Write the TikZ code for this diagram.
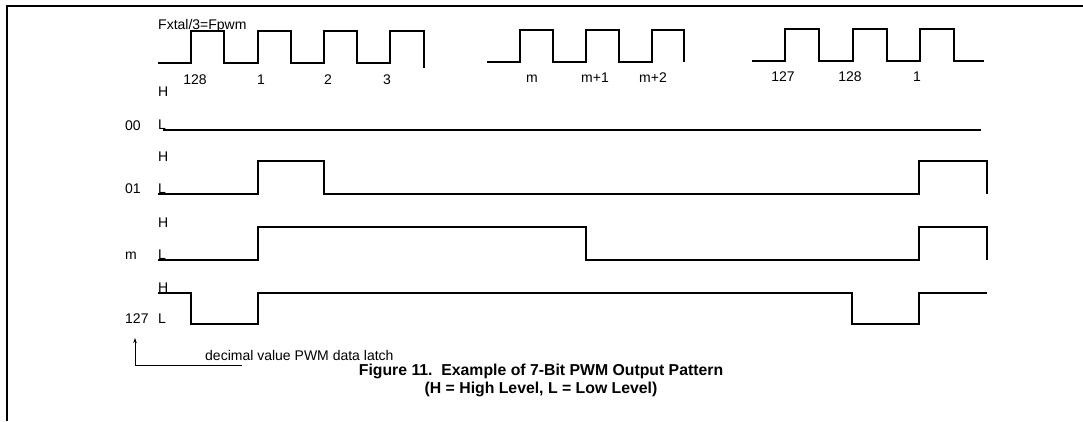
\documentclass[tikz,border=0pt]{standalone}
\usepackage{fontspec}
\setmainfont{Liberation Sans}
\usetikzlibrary{arrows.meta}
\begin{document}
\begin{tikzpicture}[x=1pt,y=-1pt,
  sig/.style={line width=1.2pt, line join=miter},
  lbl/.style={inner sep=0pt, anchor=base, font=\fontsize{14}{16}\selectfont},
  lblw/.style={lbl, anchor=base west},
  captxt/.style={inner sep=0pt, anchor=base, font=\fontsize{15.8}{18}\selectfont\bfseries}]
\useasboundingbox (0,0) rectangle (1083,421);
\fill[white] (0,0) rectangle (1083,421);
% frame
\draw[line width=2pt] (7,421) -- (7,6) -- (1083,6);
% clock
\node[lblw] (fx) at (158,29) {Fxtal/3=Fpwm};
\draw[sig] (158,63) -| (191,31) -| (224,63) -| (258,31) -| (291,63) -| (324,31) -| (357,63) -| (390,31) -| (424,68);
\draw[sig] (487,62) -| (520,30) -| (553,62) -| (586,30) -| (619,62) -| (652,30) -| (684,62);
\draw[sig] (752,61) -| (785,29) -| (819,61) -| (853,29) -| (887,61) -| (920,29) -| (954,61) -- (984,61);
\node[lbl] (c128a) at (195,84) {128};
\node[lbl] (c1a) at (261,84) {1};
\node[lbl] (c2a) at (328,84) {2};
\node[lbl] (c3a) at (387,84) {3};
\node[lbl] (cm) at (532,82) {m};
\node[lbl] (cm1) at (595,82) {m+1};
\node[lbl] (cm2) at (653,82) {m+2};
\node[lbl] (c127) at (783,81) {127};
\node[lbl] (c128b) at (850,81) {128};
\node[lbl] (c1b) at (917,81) {1};
% row 00
\node[lblw] (h00) at (158,96) {H};
\node[lblw] (l00) at (158,129) {L};
\node[lblw] (r00) at (125,130) {00};
\draw[sig] (163,130) -- (981,130);
% row 01
\node[lblw] (h01) at (158,161) {H};
\node[lblw] (l01) at (158,193) {L};
\node[lblw] (r01) at (125,193) {01};
\draw[sig] (158,194) -| (258,161) -| (324,194) -| (919,161) -| (987,194);
% row m
\node[lblw] (hm) at (158,227) {H};
\node[lblw] (lm) at (158,259) {L};
\node[lblw] (rm) at (125,259) {m};
\draw[sig] (158,260) -| (258,227) -| (586,260) -| (919,227) -| (987,260);
% row 127
\node[lblw] (h127) at (158,292) {H};
\node[lblw] (l127) at (158,323) {L};
\node[lblw] (r127) at (125,323) {127};
\draw[sig] (158,293) -| (191,324) -| (258,293) -| (852,324) -| (919,293) -- (987,293);
% arrow
\coordinate (aend) at (242,365);
\coordinate (acorner) at (135,365);
\coordinate (atip) at (135,338);
\draw[line width=0.8pt, -{Stealth[length=5pt,width=3.5pt]}] (aend) -- (acorner) -- (atip);
\node[lblw] (dv) at (205,360) {decimal value PWM data latch};
% caption
\node[captxt] (cap1) at (541,375) {Figure 11.\ \ Example of 7-Bit PWM Output Pattern};
\node[captxt] (cap2) at (541,393) {(H = High Level, L = Low Level)};
\end{tikzpicture}
\end{document}
